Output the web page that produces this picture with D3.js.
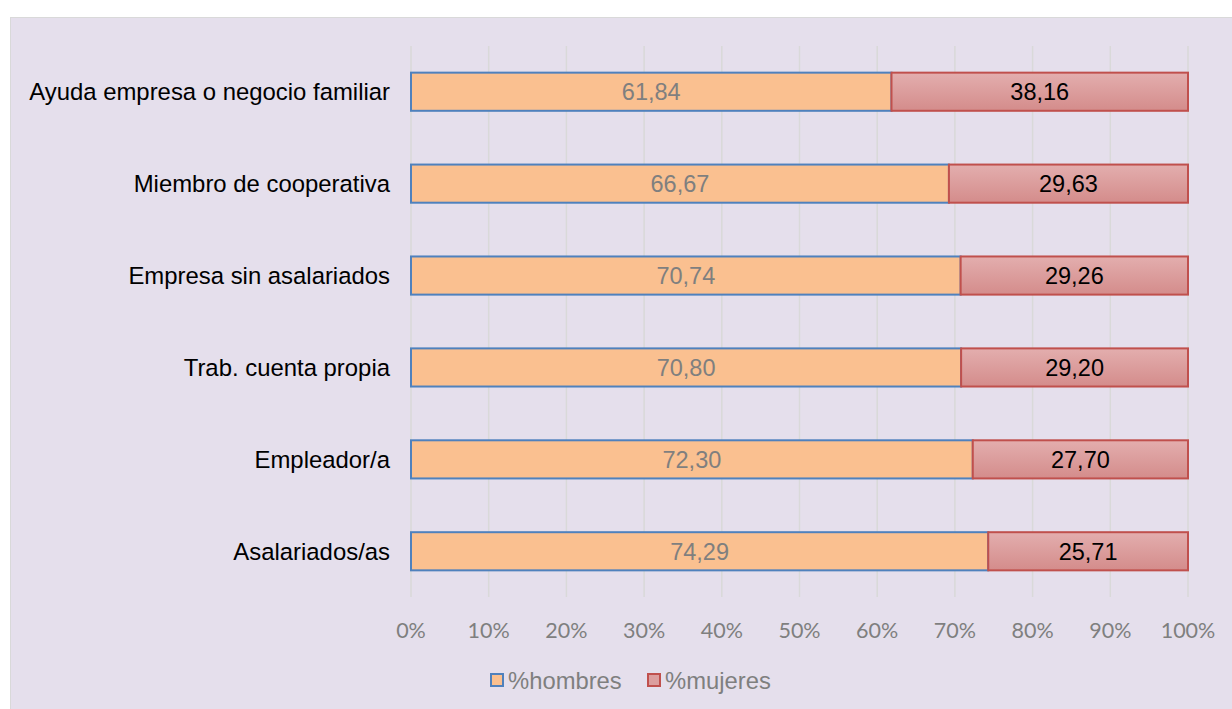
<!DOCTYPE html>
<html>
<head>
<meta charset="utf-8">
<script src="https://cdn.jsdelivr.net/npm/d3@7"></script>
<style>
  body { margin: 0; background: #fff; }
  .cat-label { font-family: "Liberation Sans", Arial, sans-serif; font-size: 23.9px; fill: #000; }
  .tick-label { font-family: Lato, "Open Sans", sans-serif; font-size: 21.5px; fill: #7f7f7f; }
  .val-label { font-family: "Liberation Sans", Arial, sans-serif; font-size: 23.5px; }
  .legend-text { font-family: "Liberation Sans", Arial, sans-serif; font-size: 23.8px; fill: #7f7f7f; }
</style>
</head>
<body>
<div id="chart"></div>
<script>
const categories = ['Ayuda empresa o negocio familiar', 'Miembro de cooperativa', 'Empresa sin asalariados',
  'Trab. cuenta propia', 'Empleador/a', 'Asalariados/as'];
const hombres = [61.84, 66.67, 70.74, 70.80, 72.30, 74.29];
const mujeres = [38.16, 29.63, 29.26, 29.20, 27.70, 25.71];
const ticks = [0, 10, 20, 30, 40, 50, 60, 70, 80, 90, 100];
const seriesNames = ['%hombres', '%mujeres'];

const width = 1232, height = 709;
const margin = {top: 46, right: 44, bottom: 112, left: 411};

const svg = d3.select('#chart').append('svg')
    .attr('width', width)
    .attr('height', height);

// gradient for the women series
const defs = svg.append('defs');
const grad = defs.append('linearGradient')
    .attr('id', 'redGrad')
    .attr('x1', 0).attr('y1', 0).attr('x2', 0).attr('y2', 1);
grad.append('stop').attr('offset', '0%').attr('stop-color', '#e3aeae');
grad.append('stop').attr('offset', '100%').attr('stop-color', '#d48c8b');

// chart panel
svg.append('rect')
    .attr('x', 10.5).attr('y', 17.5)
    .attr('width', width).attr('height', height)
    .attr('fill', '#e5dfec')
    .attr('stroke', '#d9d9d9');

const x = d3.scaleLinear()
    .domain([0, 100])
    .range([margin.left, width - margin.right]);

const y = d3.scaleBand()
    .domain(categories)
    .range([margin.top, height - margin.bottom])
    .paddingInner(0.585)
    .paddingOuter(0.29);

// gridlines
svg.append('g')
  .selectAll('line')
  .data(ticks)
  .join('line')
    .attr('x1', d => x(d)).attr('x2', d => x(d))
    .attr('y1', margin.top).attr('y2', height - margin.bottom)
    .attr('stroke', '#d9d9d9')
    .attr('stroke-width', 1.5);

// tick labels
svg.append('g')
  .selectAll('text')
  .data(ticks)
  .join('text')
    .attr('class', 'tick-label')
    .attr('x', d => x(d))
    .attr('y', 638)
    .attr('text-anchor', 'middle')
    .text(d => d + '%');

// stacked data normalised to 100%
const rows = categories.map((c, i) => {
  const total = hombres[i] + mujeres[i];
  return {cat: c, h: hombres[i], m: mujeres[i], hs: hombres[i] / total * 100};
});

const fmt = v => v.toFixed(2).replace('.', ',');

const bars = svg.append('g')
  .selectAll('g')
  .data(rows)
  .join('g');

bars.append('rect')
    .attr('x', x(0))
    .attr('y', d => y(d.cat))
    .attr('width', d => x(d.hs) - x(0))
    .attr('height', y.bandwidth())
    .attr('fill', '#fac090')
    .attr('stroke', '#4f81bd')
    .attr('stroke-width', 2);

bars.append('rect')
    .attr('x', d => x(d.hs))
    .attr('y', d => y(d.cat))
    .attr('width', d => x(100) - x(d.hs))
    .attr('height', y.bandwidth())
    .attr('fill', 'url(#redGrad)')
    .attr('stroke', '#c0504d')
    .attr('stroke-width', 2);

bars.append('text')
    .attr('class', 'val-label')
    .attr('x', d => (x(0) + x(d.hs)) / 2)
    .attr('y', d => y(d.cat) + y.bandwidth() / 2)
    .attr('dy', '0.36em')
    .attr('text-anchor', 'middle')
    .attr('fill', '#7f7f7f')
    .text(d => fmt(d.h));

bars.append('text')
    .attr('class', 'val-label')
    .attr('x', d => (x(d.hs) + x(100)) / 2)
    .attr('y', d => y(d.cat) + y.bandwidth() / 2)
    .attr('dy', '0.36em')
    .attr('text-anchor', 'middle')
    .attr('fill', '#000')
    .text(d => fmt(d.m));

// category labels
svg.append('g')
  .selectAll('text')
  .data(categories)
  .join('text')
    .attr('class', 'cat-label')
    .attr('x', 390)
    .attr('y', d => y(d) + y.bandwidth() / 2)
    .attr('dy', '0.36em')
    .attr('text-anchor', 'end')
    .text(d => d);

// legend
const legendColors = [{fill: '#fac090', stroke: '#4f81bd'}, {fill: '#dc9e9e', stroke: '#c0504d'}];
const legendX = [491, 648];
const legend = svg.append('g')
  .selectAll('g')
  .data(seriesNames)
  .join('g')
    .attr('transform', (d, i) => `translate(${legendX[i]},680)`);

legend.append('rect')
    .attr('x', 0).attr('y', -6)
    .attr('width', 12).attr('height', 12)
    .attr('fill', (d, i) => legendColors[i].fill)
    .attr('stroke', (d, i) => legendColors[i].stroke)
    .attr('stroke-width', 2);

legend.append('text')
    .attr('class', 'legend-text')
    .attr('x', 17)
    .attr('dy', '0.36em')
    .text(d => d);
</script>
</body>
</html>
